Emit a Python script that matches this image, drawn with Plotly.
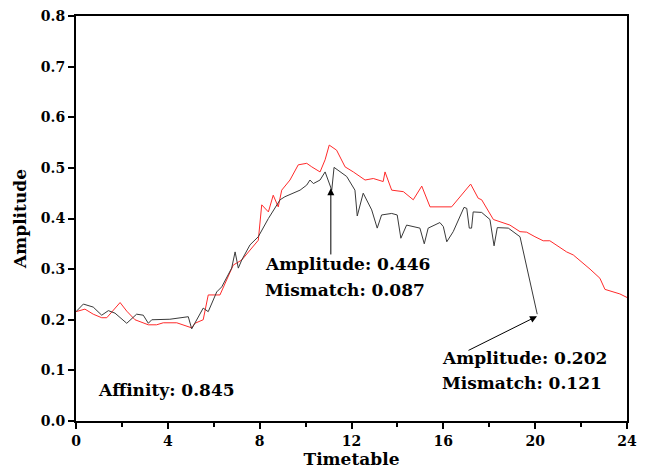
import plotly.graph_objects as go

# ---- data ----
black_t = [0, 0.32, 0.75, 1.12, 1.41, 1.70, 2.21, 2.64, 2.93, 3.15, 3.30, 4.09, 4.89, 5.04,
           5.54, 5.76, 6.13, 6.35, 6.78, 6.93, 7.07, 7.22, 7.58, 7.94, 8.38, 8.89, 9.10, 9.76,
           10.05, 10.19, 10.34, 10.63, 10.85, 11.14, 11.24, 11.50, 11.79, 12.15, 12.25, 12.51,
           12.88, 13.12, 13.31, 13.75, 13.99, 14.15, 14.40, 14.98, 15.17, 15.34, 15.85, 16.00,
           16.15, 16.43, 16.90, 17.02, 17.13, 17.23, 17.30, 17.67, 18.03, 18.21, 18.35, 18.83,
           19.05, 19.34, 20.09]
black_v = [0.216, 0.231, 0.225, 0.209, 0.218, 0.213, 0.193, 0.211, 0.209, 0.193, 0.200, 0.201,
           0.206, 0.182, 0.223, 0.216, 0.255, 0.265, 0.302, 0.334, 0.302, 0.318, 0.348, 0.364,
           0.400, 0.437, 0.443, 0.456, 0.466, 0.476, 0.469, 0.476, 0.492, 0.456, 0.501, 0.492,
           0.483, 0.456, 0.405, 0.450, 0.417, 0.381, 0.407, 0.410, 0.407, 0.361, 0.387, 0.381,
           0.350, 0.381, 0.392, 0.384, 0.354, 0.374, 0.422, 0.420, 0.381, 0.381, 0.413, 0.412,
           0.398, 0.346, 0.382, 0.381, 0.374, 0.364, 0.211]

red_t = [0, 0.39, 0.75, 1.12, 1.34, 1.92, 2.21, 2.57, 3.15, 3.51, 3.80, 4.39, 5.04, 5.18, 5.54,
         5.76, 6.27, 6.85, 7.22, 7.94, 8.09, 8.38, 8.59, 8.81, 8.96, 9.32, 9.68, 10.05, 10.27,
         10.63, 10.85, 11.03, 11.35, 11.72, 12.08, 12.37, 12.59, 12.95, 13.38, 13.46, 13.75,
         14.26, 14.69, 15.06, 15.42, 16.36, 17.19, 17.52, 17.67, 18.18, 18.90, 19.34, 19.63,
         19.99, 20.35, 20.64, 21.37, 21.66, 22.10, 22.39, 22.82, 23.04, 23.69, 24.0]
red_v = [0.216, 0.221, 0.211, 0.204, 0.204, 0.234, 0.217, 0.200, 0.190, 0.190, 0.194, 0.194,
         0.184, 0.193, 0.200, 0.249, 0.249, 0.308, 0.318, 0.357, 0.427, 0.413, 0.446, 0.423,
         0.456, 0.476, 0.506, 0.509, 0.502, 0.492, 0.516, 0.545, 0.535, 0.502, 0.492, 0.483,
         0.476, 0.479, 0.473, 0.492, 0.456, 0.453, 0.437, 0.464, 0.423, 0.423, 0.468, 0.440,
         0.437, 0.398, 0.387, 0.374, 0.373, 0.364, 0.356, 0.356, 0.334, 0.328, 0.312, 0.300,
         0.282, 0.260, 0.251, 0.244]

x_ticks = [0, 4, 8, 12, 16, 20, 24]
y_ticks = [0.0, 0.1, 0.2, 0.3, 0.4, 0.5, 0.6, 0.7, 0.8]

# annotation texts and anchor points (data coords, left edge / vertical middle)
note_texts = ["Amplitude: 0.446", "Mismatch: 0.087",
              "Amplitude: 0.202", "Mismatch: 0.121",
              "Affinity: 0.845"]
note_x = [8.14, 8.14, 15.85, 15.85, 0.87]
note_y = [0.310, 0.259, 0.124, 0.075, 0.061]

# arrow tips / tails (data coords)
arrow_tip_x = [11.1, 20.08]
arrow_tip_y = [0.46, 0.207]
arrow_tail_x = [11.1, 17.03]
arrow_tail_y = [0.326, 0.138]

SERIF = "DejaVu Serif, Liberation Serif, serif"

fig = go.Figure()
fig.add_trace(go.Scatter(x=red_t, y=red_v, mode="lines",
                         line=dict(color="#ff2a2a", width=1), showlegend=False))
fig.add_trace(go.Scatter(x=black_t, y=black_v, mode="lines",
                         line=dict(color="#3a3a3a", width=1), showlegend=False))

for tx, ty, ax_, ay_ in zip(arrow_tip_x, arrow_tip_y, arrow_tail_x, arrow_tail_y):
    fig.add_annotation(x=tx, y=ty, ax=ax_, ay=ay_,
                       xref="x", yref="y", axref="x", ayref="y",
                       text="", showarrow=True, arrowhead=2, arrowsize=1.4,
                       arrowwidth=1, arrowcolor="black")

txt_font = dict(family=SERIF, size=17, color="black")
for t, x, y in zip(note_texts, note_x, note_y):
    fig.add_annotation(x=x, y=y, xref="x", yref="y", text="<b>" + t + "</b>",
                       showarrow=False, xanchor="left", yanchor="middle", align="left",
                       font=txt_font)

tick_font = dict(family=SERIF, size=14, color="black")
title_font = dict(family=SERIF, size=17, color="black")
fig.update_layout(
    width=651, height=472,
    margin=dict(l=76, r=24, t=16, b=51),
    paper_bgcolor="white", plot_bgcolor="white",
    xaxis=dict(range=[0, 24], tickvals=x_ticks, ticktext=["<b>%d</b>" % v for v in x_ticks],
               ticks="outside", ticklen=6, tickwidth=1.5, tickcolor="black",
               minor=dict(dtick=2, ticks="outside", ticklen=4, tickwidth=1.5, tickcolor="black", showgrid=False),
               showline=True, linewidth=2, linecolor="black", mirror=True,
               showgrid=False, zeroline=False, tickfont=tick_font, automargin=False,
               title=dict(text="<b>Timetable</b>", font=title_font, standoff=2)),
    yaxis=dict(range=[0, 0.8], tickvals=y_ticks, ticktext=["<b>%.1f</b>" % v for v in y_ticks],
               ticks="outside", ticklen=6, tickwidth=1.5, tickcolor="black",
               showline=True, linewidth=2, linecolor="black", mirror=True,
               showgrid=False, zeroline=False, tickfont=tick_font, automargin=False,
               title=dict(text="<b>Amplitude</b>", font=title_font, standoff=10)),
)

fig.write_html("out.html")
